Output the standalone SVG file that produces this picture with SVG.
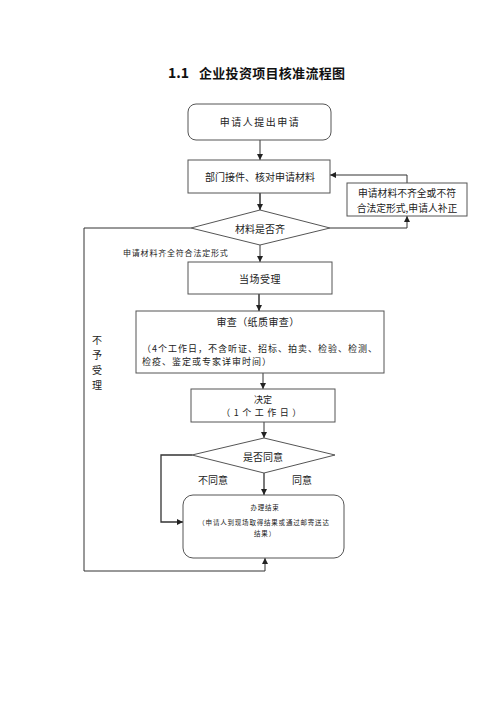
<svg xmlns="http://www.w3.org/2000/svg" width="500" height="707" viewBox="0 0 500 707">
<style>
.box{fill:#fff;stroke:#555;stroke-width:1}
.ln{fill:none;stroke:#333;stroke-width:1}
.t{font-family:"Noto Sans CJK SC","Noto Sans",sans-serif;fill:#222;font-size:10px}
.c{text-anchor:middle}
.s{font-size:8px;letter-spacing:0.8px}
.xs{font-size:6.5px;letter-spacing:0.8px}
</style>
<defs>
<marker id="ah" markerWidth="6" markerHeight="6" refX="6" refY="3" orient="auto" markerUnits="userSpaceOnUse">
<path d="M0,0 L6,3 L0,6 z" fill="#222"/>
</marker>
</defs>
<rect width="500" height="707" fill="#fff"/>
<g id="title">
<text x="168" y="78" class="t" style="font-size:14px;font-weight:bold;fill:#111">1.1</text>
<text x="199" y="78" class="t" style="font-size:13px;font-weight:bold;letter-spacing:0.3px;fill:#111">企业投资项目核准流程图</text>
</g>
<g id="connectors">
<path class="ln" d="M260,140 V160" marker-end="url(#ah)"/>
<path class="ln" d="M260,193 V210" style="stroke-width:1.5" marker-end="url(#ah)"/>
<path class="ln" d="M330,228 H407 V216" marker-end="url(#ah)"/>
<path class="ln" d="M407,183 V175 H330" marker-end="url(#ah)"/>
<path class="ln" d="M191,228 H84 V571 H265 V558" marker-end="url(#ah)"/>
<path class="ln" d="M260,245 V262" marker-end="url(#ah)"/>
<path class="ln" d="M259,294 V311" style="stroke-width:1.5" marker-end="url(#ah)"/>
<path class="ln" d="M263,373 V389" marker-end="url(#ah)"/>
<path class="ln" d="M264,422 V438" marker-end="url(#ah)"/>
<path class="ln" d="M192,455 H161 V522 H183" style="stroke-width:1.3" marker-end="url(#ah)"/>
<path class="ln" d="M264,473 V495" style="stroke-width:1.3" marker-end="url(#ah)"/>
<text x="123" y="256" class="t s">申请材料齐全符合法定形式</text>
<text class="t c" x="97" y="343.5">不</text>
<text class="t c" x="97" y="358.5">予</text>
<text class="t c" x="97" y="373.5">受</text>
<text class="t c" x="97" y="388.5">理</text>
<text x="213" y="484" class="t c">不同意</text>
<text x="302" y="484" class="t c">同意</text>
</g>
<g id="n1">
<rect class="box" x="188" y="104" width="143" height="36" rx="8"/>
<text x="260" y="126" class="t c" style="letter-spacing:1.5px">申请人提出申请</text>
</g>
<g id="n2">
<rect class="box" x="188" y="160" width="142" height="33"/>
<text x="260" y="180.5" class="t c">部门接件、核对申请材料</text>
</g>
<g id="n3">
<rect class="box" x="347" y="183" width="120" height="33"/>
<text x="407" y="197" class="t c" style="font-size:9.8px">申请材料不齐全或不符</text>
<text x="407" y="211.5" class="t c" style="font-size:9.8px">合法定形式,申请人补正</text>
</g>
<g id="d1">
<polygon class="box" points="260,210 330,228 260,245 191,228"/>
<text x="260" y="232.5" class="t c">材料是否齐</text>
</g>
<g id="n4">
<rect class="box" x="188" y="262" width="144" height="32"/>
<text x="260" y="282.5" class="t c" style="letter-spacing:0.5px">当场受理</text>
</g>
<g id="n5">
<rect class="box" x="136" y="311" width="248" height="62"/>
<text x="258" y="325.5" class="t c" style="letter-spacing:0.4px">审查（纸质审查）</text>
<text x="142" y="352" class="t" style="font-size:9px;letter-spacing:1px">（4个工作日，不含听证、招标、拍卖、检验、检测、</text>
<text x="142" y="365" class="t" style="font-size:9px;letter-spacing:1px">检疫、鉴定或专家详审时间）</text>
</g>
<g id="n6">
<rect class="box" x="191" y="389" width="144" height="33"/>
<text x="263" y="402.5" class="t c" style="font-size:9px">决定</text>
<text x="263" y="416" class="t c" style="font-size:9px;letter-spacing:3.5px">（1个工作日）</text>
</g>
<g id="d2">
<polygon class="box" points="264,438 335,455 264,473 192,455"/>
<text x="263" y="460.5" class="t c">是否同意</text>
</g>
<g id="n7">
<rect class="box" x="183" y="495" width="161" height="63" rx="10"/>
<text x="265" y="509.5" class="t c xs">办理结束</text>
<text x="264" y="524.5" class="t c xs">（申请人到现场取得结果或通过邮寄送达</text>
<text x="265" y="535.5" class="t c xs">结果）</text>
</g>
</svg>
